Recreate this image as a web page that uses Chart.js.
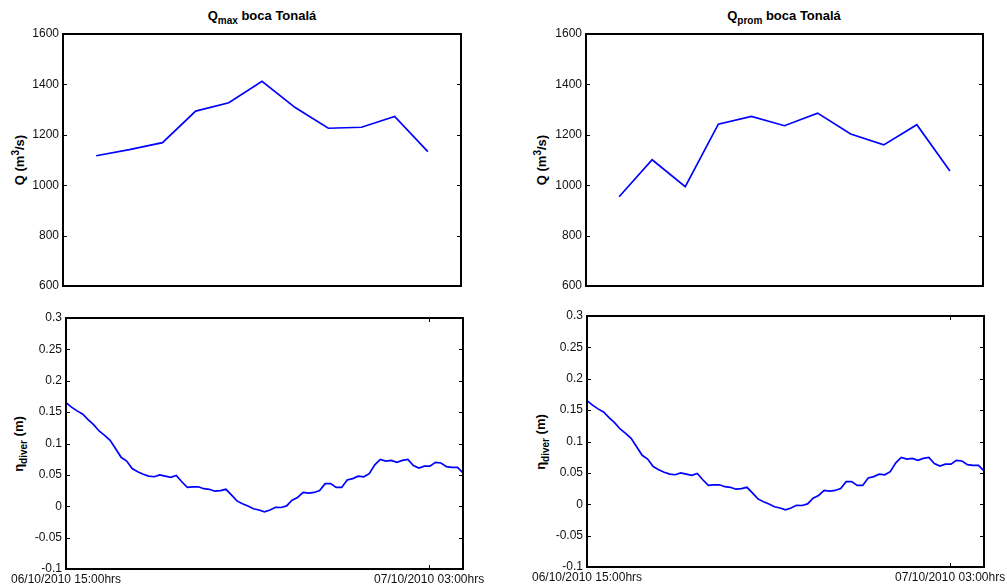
<!DOCTYPE html>
<html>
<head>
<meta charset="utf-8">
<title>boca Tonalá</title>
<script src="https://cdn.jsdelivr.net/npm/chart.js@4.4.1/dist/chart.umd.min.js"></script>
<style>
  html, body { margin: 0; padding: 0; background: #fff; overflow: hidden; width: 1007px; height: 586px; }
  body { position: relative; font-family: "Liberation Sans", Arial, sans-serif; color: #000; }
  canvas { position: absolute; }
  .title { position: absolute; font-weight: bold; font-size: 13px; line-height: 16px; white-space: nowrap; transform: translateX(-50%); }
  .ylab { position: absolute; font-weight: bold; font-size: 13px; line-height: 16px; white-space: nowrap; transform: translate(-50%, -50%) rotate(-90deg); }
  .title sub, .ylab sub { font-size: 10px; vertical-align: -4px; line-height: 0; }
  .ylab sup { font-size: 10px; vertical-align: 5px; line-height: 0; }
</style>
</head>
<body>
<div class="title" style="left:262px; top:8px;">Q<sub>max</sub> boca Tonalá</div>
<div class="title" style="left:784px; top:8px;">Q<sub>prom</sub> boca Tonalá</div>
<div class="ylab" style="left:20px; top:160px;">Q (m<sup>3</sup>/s)</div>
<div class="ylab" style="left:542px; top:160px;">Q (m<sup>3</sup>/s)</div>
<div class="ylab" style="left:19px; top:444px;">η<sub>diver</sub> (m)</div>
<div class="ylab" style="left:541px; top:442px;">η<sub>diver</sub> (m)</div>

<canvas id="cQmax"></canvas>
<canvas id="cQprom"></canvas>
<canvas id="cEtaL"></canvas>
<canvas id="cEtaR"></canvas>

<script>
// Discharge at the Tonalá inlet for each measurement interval (m3/s)
const qIntervals = [1, 2, 3, 4, 5, 6, 7, 8, 9, 10, 11];
const qMaxValues = [1117, 1141, 1169, 1294, 1327, 1412, 1308, 1226, 1230, 1273, 1133];
const qPromValues = [954, 1101, 994, 1242, 1273, 1236, 1286, 1203, 1160, 1240, 1056];
const qTicks = [600, 800, 1000, 1200, 1400, 1600];

// Diver water level (m), regular samples from 06/10/2010 15:00
const etaDiver = [
  0.165, 0.158, 0.152, 0.147, 0.138, 0.130, 0.120, 0.113, 0.105, 0.0915,
  0.078, 0.072, 0.060, 0.055, 0.051, 0.048, 0.047, 0.050, 0.048, 0.046,
  0.049, 0.039, 0.030, 0.031, 0.031, 0.028, 0.027, 0.024, 0.025, 0.027,
  0.018, 0.0085, 0.004, 0.0005, -0.004, -0.006, -0.009, -0.006, -0.0016, -0.002,
  0.0005, 0.0096, 0.014, 0.022, 0.021, 0.022, 0.025, 0.036, 0.036, 0.030,
  0.030, 0.042, 0.044, 0.048, 0.047, 0.052, 0.066, 0.0745, 0.072, 0.073,
  0.070, 0.073, 0.0745, 0.065, 0.061, 0.064, 0.064, 0.070, 0.069, 0.063,
  0.062, 0.062, 0.053
];
const etaRecordHours = 13.12;                       // length of the record in hours
const sampleHours = etaRecordHours / (etaDiver.length - 1);
const etaTicks = [-0.1, -0.05, 0, 0.05, 0.1, 0.15, 0.2, 0.25, 0.3];
const timeTickHours = [0, 12];
const timeTickLabels = ['06/10/2010 15:00hrs', '07/10/2010 03:00hrs'];

Chart.defaults.font.family = "'Liberation Sans', Arial, sans-serif";
Chart.defaults.font.size = 12;
Chart.defaults.color = '#111';

// Box frame with inward tick marks on every side of the plot area
const frameAndTicks = {
  id: 'frameAndTicks',
  afterDatasetsDraw(chart, args, opts) {
    const { ctx, chartArea: a, scales } = chart;
    const len = 4;
    ctx.save();
    ctx.strokeStyle = '#000';
    ctx.lineWidth = 1;
    ctx.beginPath();
    scales.y.ticks.forEach(t => {
      const py = Math.round(scales.y.getPixelForValue(t.value)) + 0.5;
      ctx.moveTo(a.left, py); ctx.lineTo(a.left + len, py);
      ctx.moveTo(a.right, py); ctx.lineTo(a.right - len, py);
    });
    if (opts.xTicks) {
      scales.x.ticks.forEach(t => {
        const px = Math.round(scales.x.getPixelForValue(t.value)) + 0.5;
        ctx.moveTo(px, a.bottom); ctx.lineTo(px, a.bottom - len);
        ctx.moveTo(px, a.top); ctx.lineTo(px, a.top + len);
      });
    }
    ctx.stroke();
    ctx.lineWidth = 2;
    ctx.strokeRect(a.left, a.top, a.right - a.left, a.bottom - a.top);
    ctx.restore();
  }
};

const AXIS_W = 60, PAD_T = 16, PAD_R = 44, AXIS_H = 24;

function makePanel(canvasId, area, points, yTicks, xCfg) {
  const cv = document.getElementById(canvasId);
  const [l, t, r, b] = area;
  const w = (r - l) + AXIS_W + PAD_R;
  const h = (b - t) + PAD_T + AXIS_H;
  cv.width = w; cv.height = h;
  cv.style.left = (l - AXIS_W) + 'px';
  cv.style.top = (t - PAD_T) + 'px';
  cv.style.width = w + 'px';
  cv.style.height = h + 'px';

  return new Chart(cv, {
    type: 'line',
    data: {
      datasets: [{
        data: points,
        borderColor: '#0000ff',
        borderWidth: 1.7,
        pointRadius: 0,
        tension: 0,
        fill: false
      }]
    },
    options: {
      responsive: false,
      animation: false,
      events: [],
      layout: { padding: { left: 0, top: PAD_T, right: PAD_R, bottom: 0 } },
      plugins: {
        legend: { display: false },
        tooltip: { enabled: false },
        title: { display: false },
        frameAndTicks: { xTicks: xCfg.tickHours.length > 0 }
      },
      scales: {
        x: {
          type: 'linear',
          min: xCfg.min,
          max: xCfg.max,
          grid: { display: false, drawTicks: false },
          border: { display: false },
          afterBuildTicks: s => { s.ticks = xCfg.tickHours.map(v => ({ value: v })); },
          afterFit: s => { s.height = AXIS_H; },
          ticks: {
            display: xCfg.tickHours.length > 0,
            autoSkip: false,
            maxRotation: 0,
            minRotation: 0,
            padding: 3,
            color: '#111',
            callback: (v, i) => xCfg.tickLabels[i]
          }
        },
        y: {
          type: 'linear',
          min: yTicks[0],
          max: yTicks[yTicks.length - 1],
          grid: { display: false, drawTicks: false },
          border: { display: false },
          afterBuildTicks: s => { s.ticks = yTicks.map(v => ({ value: v })); },
          afterFit: s => { s.width = AXIS_W; },
          ticks: {
            padding: 4,
            color: '#111',
            callback: v => String(v)
          }
        }
      }
    },
    plugins: [frameAndTicks]
  });
}

const qAxis = { min: 0, max: 12, tickHours: [], tickLabels: [] };
const timeAxis = { min: 0, max: etaRecordHours, tickHours: timeTickHours, tickLabels: timeTickLabels };

const qMaxPoints = qIntervals.map((k, i) => ({ x: k, y: qMaxValues[i] }));
const qPromPoints = qIntervals.map((k, i) => ({ x: k, y: qPromValues[i] }));
const etaPoints = etaDiver.map((v, i) => ({ x: i * sampleHours, y: v }));

makePanel('cQmax', [63, 34, 461, 286], qMaxPoints, qTicks, qAxis);
makePanel('cQprom', [586, 34, 983, 286], qPromPoints, qTicks, qAxis);
makePanel('cEtaL', [66, 318, 463, 569], etaPoints, etaTicks, timeAxis);
makePanel('cEtaR', [587, 316, 984, 567], etaPoints, etaTicks, timeAxis);
</script>
</body>
</html>
